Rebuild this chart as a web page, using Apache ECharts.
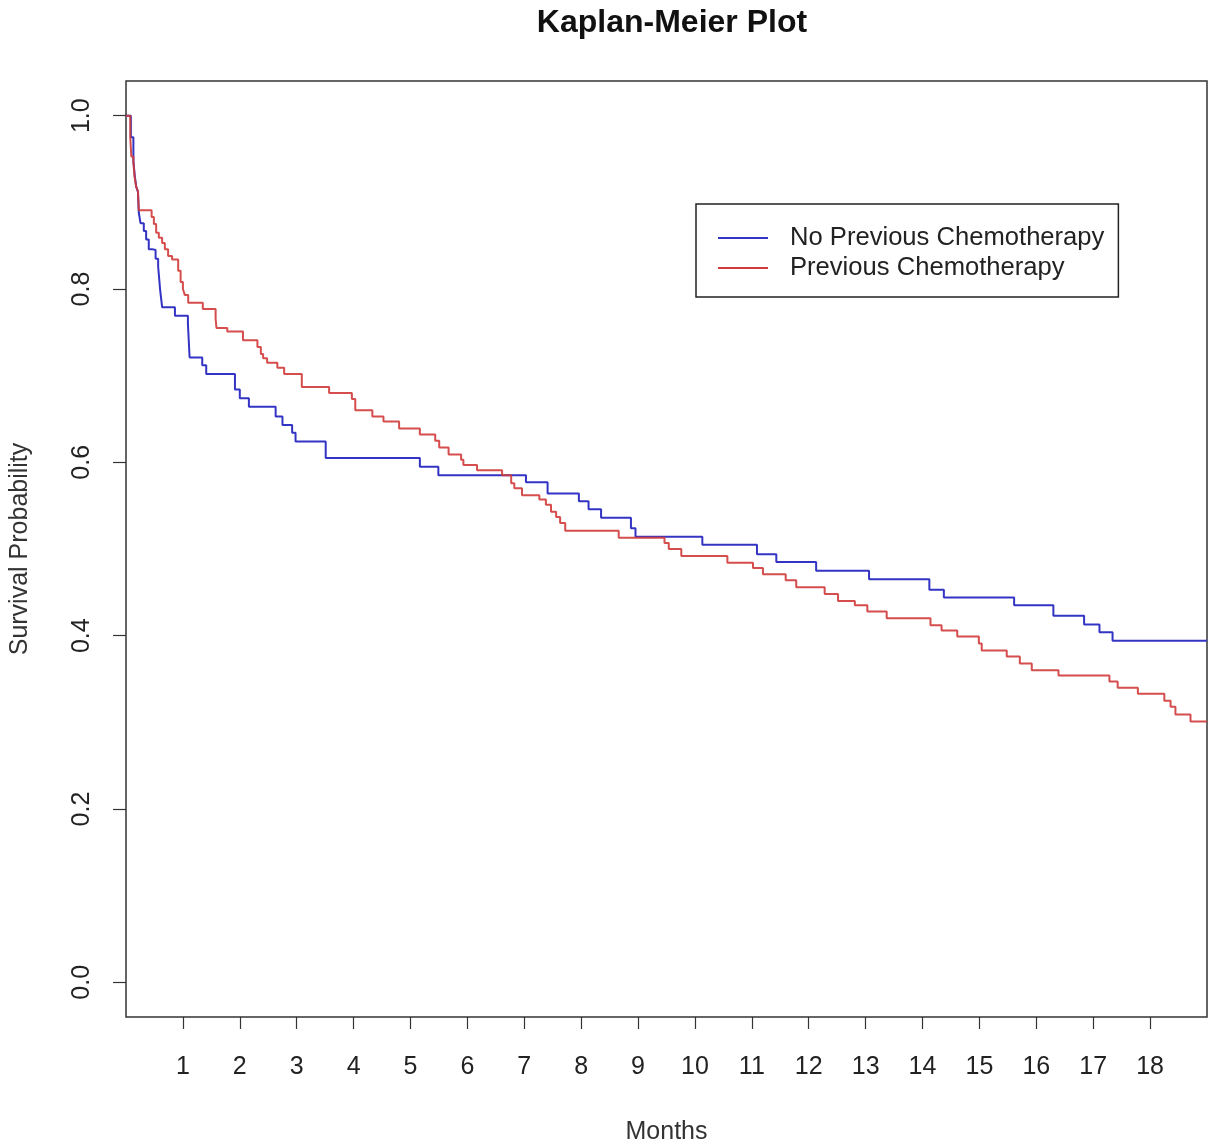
<!DOCTYPE html>
<html>
<head>
<meta charset="utf-8">
<script src="https://cdn.jsdelivr.net/npm/echarts@6/dist/echarts.min.js"></script>
<style>
html,body{margin:0;padding:0;background:#fff;}
#chart{width:1208px;height:1146px;}
</style>
</head>
<body>
<div id="chart"></div>
<script>
// ---- Data ----
const seriesNames = ['No Previous Chemotherapy', 'Previous Chemotherapy'];

const noChemoTime = [0, 0.085, 0.13, 0.155, 0.18, 0.21, 0.225, 0.255, 0.313, 0.354, 0.40, 0.46, 0.52, 0.565, 0.60, 0.635,
  0.86, 1.088, 1.118, 1.34, 1.41, 1.915, 2.0, 2.16, 2.63, 2.75, 2.92, 2.98, 3.51, 5.165, 5.49, 7.03, 7.41, 7.96, 8.13,
  8.35, 8.875, 8.955, 10.13, 11.09, 11.43, 12.13, 13.06, 14.12, 14.375, 15.61, 16.30, 16.84, 17.11, 17.34, 19];
const noChemoSurv = [1.0, 0.975, 0.948, 0.930, 0.918, 0.912, 0.888, 0.876, 0.867, 0.857, 0.846, 0.845, 0.835, 0.826, 0.799, 0.779,
  0.769, 0.760, 0.721, 0.712, 0.702, 0.684, 0.674, 0.664, 0.653, 0.643, 0.634, 0.624, 0.605, 0.595, 0.585, 0.577, 0.564, 0.555, 0.546,
  0.536, 0.524, 0.514, 0.505, 0.494, 0.485, 0.475, 0.465, 0.453, 0.444, 0.435, 0.423, 0.413, 0.404, 0.394, 0.394];

const chemoTime = [0, 0.075, 0.093, 0.13, 0.15, 0.178, 0.21, 0.225, 0.45, 0.49, 0.53, 0.577, 0.635, 0.683, 0.74, 0.81, 0.917, 0.96,
  1.0, 1.035, 1.093, 1.35, 1.575, 1.59, 1.78, 2.056, 2.31, 2.37, 2.41, 2.48, 2.66, 2.78, 3.09, 3.57, 3.97, 4.03, 4.33, 4.525,
  4.80, 5.165, 5.435, 5.505, 5.67, 5.89, 5.93, 6.17, 6.61, 6.77, 6.825, 6.96, 7.265, 7.38, 7.47, 7.56, 7.63, 7.72, 8.66, 9.465,
  9.54, 9.76, 10.57, 11.02, 11.195, 11.595, 11.78, 12.28, 12.515, 12.81, 13.03, 13.37, 14.14, 14.335, 14.61, 14.99, 15.04,
  15.48, 15.71, 15.92, 16.39, 17.285, 17.43, 17.785, 18.25, 18.36, 18.445, 18.71, 19];
const chemoSurv = [1.0, 0.975, 0.953, 0.946, 0.930, 0.918, 0.913, 0.891, 0.883, 0.875, 0.865, 0.859, 0.853, 0.846, 0.838, 0.834, 0.821, 0.808,
  0.800, 0.793, 0.784, 0.777, 0.766, 0.755, 0.751, 0.741, 0.733, 0.725, 0.720, 0.715, 0.709, 0.702, 0.687, 0.680, 0.673, 0.660, 0.653, 0.647,
  0.639, 0.632, 0.625, 0.617, 0.609, 0.603, 0.597, 0.591, 0.585, 0.576, 0.570, 0.562, 0.557, 0.551, 0.543, 0.537, 0.530, 0.521, 0.513, 0.507,
  0.500, 0.492, 0.484, 0.478, 0.471, 0.464, 0.456, 0.448, 0.440, 0.435, 0.428, 0.420, 0.412, 0.406, 0.399, 0.391, 0.383,
  0.376, 0.368, 0.360, 0.354, 0.347, 0.340, 0.333, 0.325, 0.318, 0.309, 0.301, 0.301];

const xTicks = [1, 2, 3, 4, 5, 6, 7, 8, 9, 10, 11, 12, 13, 14, 15, 16, 17, 18];
const yTicks = [0.0, 0.2, 0.4, 0.6, 0.8, 1.0];
const yTickLabels = ['0.0', '0.2', '0.4', '0.6', '0.8', '1.0'];

// ---- Chart ----
const zip = (a, b) => a.map((v, i) => [v, b[i]]);
const FONT = '"Liberation Sans", Arial, sans-serif';

const chart = echarts.init(document.getElementById('chart'), null, {renderer: 'canvas'});
chart.setOption({
  animation: false,
  backgroundColor: '#ffffff',
  title: {
    text: 'Kaplan-Meier Plot',
    left: 667,
    top: 2,
    textAlign: 'center',
    textStyle: {fontFamily: FONT, fontSize: 32, fontWeight: 'bold', color: '#111'}
  },
  legend: {
    data: seriesNames,
    orient: 'vertical',
    left: 696,
    top: 204,
    padding: [21, 14, 16, 22],
    itemGap: 4,
    itemWidth: 50,
    itemHeight: 2,
    icon: 'rect',
    borderColor: '#222',
    borderWidth: 1.5,
    backgroundColor: '#fff',
    textStyle: {fontFamily: FONT, fontSize: 25.6, color: '#222', lineHeight: 26, padding: [0, 0, 0, 17]}
  },
  grid: {
    left: 126, right: 1, top: 81, bottom: 129,
    show: true, borderColor: '#333', borderWidth: 1.5, backgroundColor: 'transparent',
    containLabel: false,
    outerBoundsMode: 'none'
  },
  xAxis: {
    type: 'value',
    min: 0, max: 19,
    name: 'Months',
    nameLocation: 'middle',
    nameGap: 103,
    nameTextStyle: {fontFamily: FONT, fontSize: 25, color: '#333'},
    splitLine: {show: false},
    axisLine: {show: false, onZero: false},
    axisTick: {show: true, length: 12, inside: false, customValues: xTicks, lineStyle: {color: '#333', width: 1.2}},
    axisLabel: {show: true, customValues: xTicks, margin: 38, fontFamily: FONT, fontSize: 25, color: '#222'}
  },
  yAxis: {
    type: 'value',
    min: -0.04, max: 1.04,
    name: 'Survival Probability',
    nameLocation: 'middle',
    nameRotate: 90,
    nameGap: 93,
    nameTextStyle: {fontFamily: FONT, fontSize: 25, color: '#333'},
    splitLine: {show: false},
    axisLine: {show: false, onZero: false},
    axisTick: {show: true, length: 13, customValues: yTicks, lineStyle: {color: '#333', width: 1.2}},
    axisLabel: {
      show: true, customValues: yTicks, rotate: 90, margin: 31,
      fontFamily: FONT, fontSize: 25, color: '#222',
      formatter: (v) => {
        const i = yTicks.findIndex(t => Math.abs(t - v) < 1e-9);
        return i >= 0 ? yTickLabels[i] : '';
      }
    }
  },
  series: [
    {
      name: seriesNames[0], type: 'line', step: 'end', symbol: 'none', showSymbol: false,
      data: zip(noChemoTime, noChemoSurv),
      lineStyle: {color: '#3434c4', width: 2},
      itemStyle: {color: '#3434c4'},
      z: 2
    },
    {
      name: seriesNames[1], type: 'line', step: 'end', symbol: 'none', showSymbol: false,
      data: zip(chemoTime, chemoSurv),
      lineStyle: {color: '#d03a3a', width: 2, opacity: 0.9},
      itemStyle: {color: '#d03a3a'},
      z: 3
    }
  ]
});
</script>
</body>
</html>
